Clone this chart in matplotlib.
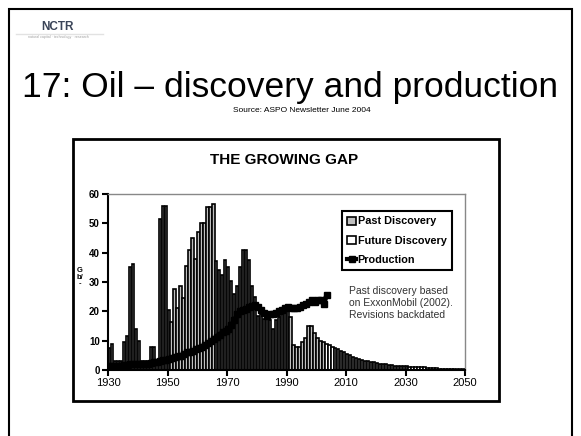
import numpy as np
import matplotlib
matplotlib.use("Agg")
import matplotlib.pyplot as plt
from matplotlib.patches import Rectangle, Patch
from matplotlib.lines import Line2D

plt.rcParams['font.family'] = ['Liberation Sans', 'DejaVu Sans']

# Discovery per year, Gb (1930 .. 2050)
disc_years = list(range(1930, 2051))
discovery = [
    7.5, 9, 3, 3, 3, 9.5, 11.5, 35, 36, 14,          # 1930s
    10, 3, 3, 3, 8, 8, 3, 51.5, 56, 56,             # 1940s
    20.5, 16.5, 27.5, 21, 28.5, 24.5, 35.5, 41, 45, 38,   # 1950s
    47, 50, 50, 55.5, 55.5, 56.5, 37, 34, 32.5, 37.5,     # 1960s
    35, 30.5, 26, 28.5, 35, 41, 41, 37.5, 28.5, 25,       # 1970s
    18.5, 19, 17.5, 18, 17, 14, 17, 18, 20, 20,           # 1980s
    20, 18, 8.5, 8, 8, 9.5, 11, 15, 15, 12.5,             # 1990s
    11, 10, 9.5, 9, 8.5, 8, 7.5, 7, 6.5, 6,               # 2000s
    5.5, 5, 4.6, 4.2, 3.8, 3.5, 3.2, 3.0, 2.8, 2.6,       # 2010s
    2.4, 2.2, 2.0, 1.9, 1.8, 1.6, 1.5, 1.4, 1.3, 1.2,     # 2020s
    1.2, 1.1, 1.1, 1.0, 1.0, 0.9, 0.9, 0.8, 0.8, 0.7,     # 2030s
    0.6, 0.5, 0.5, 0.4, 0.4, 0.4, 0.3, 0.3, 0.3, 0.3,     # 2040s
    0.3,                                                  # 2050
]
last_past_year = 2002

# Production per year, Gb (1930 .. 2003)
prod_years = list(range(1930, 2004))
production = [
    1.4, 1.4, 1.3, 1.4, 1.5, 1.6, 1.7, 2.0, 2.0, 2.1,
    2.1, 2.2, 2.0, 2.1, 2.5, 2.6, 2.8, 3.0, 3.4, 3.4,
    3.8, 4.2, 4.4, 4.7, 4.9, 5.5, 6.0, 6.3, 6.5, 7.0,
    7.5, 8.0, 8.6, 9.2, 9.9, 10.6, 11.4, 12.1, 12.8, 13.4,
    14.0, 15.5, 17.0, 19.0, 20.0, 20.3, 20.8, 21.5, 21.8, 22.0,
    21.5, 20.5, 19.5, 18.5, 19.0, 19.0, 19.6, 20.0, 20.6, 21.2,
    21.5, 21.3, 21.2, 21.3, 21.6, 22.0, 22.5, 23.2, 23.8, 23.3,
    24.0, 23.8, 22.6, 25.5,
]

y_ticks = [0, 10, 20, 30, 40, 50, 60]
x_ticks = [1930, 1950, 1970, 1990, 2010, 2030, 2050]

W, H = 581, 436
fig = plt.figure(figsize=(W / 100, H / 100), dpi=100)


def fx(px):
    return px / W


def fy(py):
    return 1 - py / H


# slide frame
fig.add_artist(Rectangle((fx(9), fy(445)), fx(572) - fx(9), fy(9) - fy(445),
                         transform=fig.transFigure, fill=False, lw=1.5, ec='black'))

# logo
fig.text(fx(57), fy(27), 'NCTR', fontsize=8.5, fontweight='bold', color='#3a4458',
         ha='center', va='center')
fig.add_artist(Line2D([fx(16), fx(103)], [fy(34), fy(34)], transform=fig.transFigure,
                      color='#e2e2e2', lw=1))
fig.text(fx(58), fy(37), 'natural capital · technology · research', fontsize=2.6,
         color='#a0a0a0', ha='center', va='center')

# titles
fig.text(fx(290), fy(97), '17: Oil – discovery and production', fontsize=25.5,
         ha='center', va='baseline')
fig.text(fx(302), fy(111), 'Source: ASPO Newsletter June 2004', fontsize=6,
         ha='center', va='center')

# chart box
fig.add_artist(Rectangle((fx(73), fy(401)), fx(499) - fx(73), fy(139) - fy(401),
                         transform=fig.transFigure, fill=False, lw=2, ec='black'))
fig.text(fx(284), fy(160), 'THE GROWING GAP', fontsize=11, fontweight='bold',
         ha='center', va='center')

ax = fig.add_axes([fx(108), fy(370), fx(465) - fx(108), fy(194) - fy(370)])

years = np.array(disc_years)
vals = np.array(discovery)
past = years <= last_past_year
ax.bar(years[past], vals[past], width=0.8, align='edge', color='#c0c0c0',
       edgecolor='black', linewidth=1.2, zorder=2)
ax.bar(years[~past], vals[~past], width=0.8, align='edge', color='white',
       edgecolor='black', linewidth=1.2, zorder=2)
ax.plot(np.array(prod_years) + 0.5, production, color='black', lw=3.5,
        marker='s', markersize=4, zorder=3)

ax.set_xlim(1930, 2050)
ax.set_ylim(0, 60)
ax.set_yticks(y_ticks)
ax.set_xticks(x_ticks)
ax.set_yticklabels([str(v) for v in y_ticks], fontsize=7, fontweight='bold')
ax.set_xticklabels([str(v) for v in x_ticks], fontsize=8)
ax.tick_params(axis='both', direction='out', length=4, width=1.5, pad=2)
for s in ['left', 'bottom']:
    ax.spines[s].set_linewidth(1.5)
for s in ['top', 'right']:
    ax.spines[s].set_color('#888888')
    ax.spines[s].set_linewidth(1)

fig.text(fx(80), fy(277), 'G\nb/\n-', fontsize=5.5, fontweight='bold',
         ha='center', va='center', linespacing=1.0)

handles = [
    Patch(facecolor='#c0c0c0', edgecolor='black', linewidth=1.2, label='Past Discovery'),
    Patch(facecolor='white', edgecolor='black', linewidth=1.2, label='Future Discovery'),
    Line2D([], [], color='black', lw=3, marker='s', markersize=4.5, label='Production'),
]
leg = fig.legend(handles=handles, loc='upper left',
                 bbox_to_anchor=(fx(342), fy(211)), fancybox=False, framealpha=1,
                 edgecolor='black', prop={'size': 7.8, 'weight': 'bold'},
                 handlelength=0.8, handleheight=0.8, handletextpad=0.15,
                 borderpad=0.5, labelspacing=0.85, borderaxespad=0)
leg.get_frame().set_linewidth(1.5)

fig.text(fx(349), fy(303), 'Past discovery based\non ExxonMobil (2002).\nRevisions backdated',
         fontsize=7.5, color='#333333', ha='left', va='center', linespacing=1.3)

fig.savefig('out.png', dpi=100)
